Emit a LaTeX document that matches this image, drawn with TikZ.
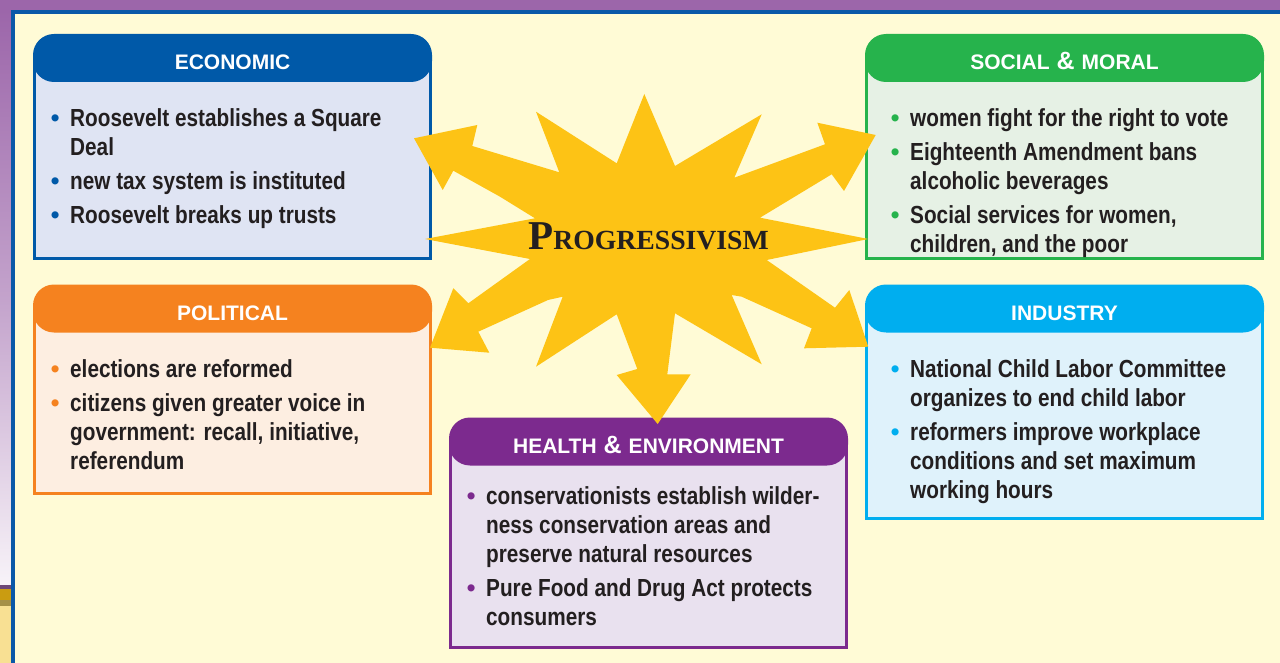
\documentclass[tikz,border=0pt]{standalone}
\usepackage{fontspec}
\setmainfont{Liberation Sans}
\newfontfamily\bodyfont[FakeStretch=0.84]{Liberation Sans}
\newfontfamily\headfont{Liberation Sans}
\newfontfamily\bulfont{Liberation Sans}
\newfontfamily\titlefont{Liberation Serif}

\definecolor{paper}{HTML}{FFFBD6}
\definecolor{frame}{HTML}{9C66AA}
\definecolor{frameline}{HTML}{0A58A8}
\definecolor{econ}{HTML}{0059A8}
\definecolor{econlight}{HTML}{DFE4F3}
\definecolor{social}{HTML}{26B34C}
\definecolor{sociallight}{HTML}{E6F1E5}
\definecolor{political}{HTML}{F5821F}
\definecolor{politicallight}{HTML}{FDEEE1}
\definecolor{industry}{HTML}{00AEEF}
\definecolor{industrylight}{HTML}{DFF2FB}
\definecolor{health}{HTML}{7C2A8E}
\definecolor{healthlight}{HTML}{E9E1EF}
\definecolor{sun}{HTML}{FDC315}
\definecolor{ink}{HTML}{231F20}

\newcommand{\bul}[1]{\llap{\textcolor{#1}{\bulfont •}\hspace{10.7pt}}}
\newcommand{\amp}{{\hspace{7pt}\fontsize{25}{25}\selectfont\&\hspace{7pt}}}

\begin{document}
\begin{tikzpicture}[x=1pt, y=-1pt]
    \tikzset{
      boxbody/.style={draw, line width=3pt, rectangle, inner sep=0pt},
      boxhead/.style={rectangle, rounded corners=21pt, inner sep=0pt, minimum width=399pt, minimum height=48pt,
        text height=24pt, text depth=0pt, text=white, font=\headfont\bfseries\fontsize{21}{21}\selectfont},
      boxlist/.style={anchor=north west, align=left, inner sep=0pt, text=ink,
        font=\bodyfont\bfseries\fontsize{24.7}{29}\selectfont},
      star/.style={fill=sun}
    }
    \useasboundingbox (0,0) rectangle (1280,663);
    \fill[paper] (0,0) rectangle (1280,663);
    % frame
    \fill[frame] (0,0) rectangle (1280,10);
    \shade[top color=frame, bottom color=frame!60!white] (0,10) rectangle (11,300);
    \shade[top color=frame!60!white, bottom color=frame!8!white] (0,300) rectangle (11,585);
    \fill[frame!70!black] (0,585) rectangle (11,589);
    \fill[sun!80!black] (0,589) rectangle (11,600);
    \fill[sun!50!black!70!paper] (0,600) rectangle (11,606);
    \fill[sun!30!paper!90!brown] (0,606) rectangle (11,663);
    \fill[frameline] (11,10) rectangle (1280,14);
    \fill[frameline] (11,10) rectangle (15,663);

    \draw (232.5,158.25) node (econbody) [boxbody, draw=econ, fill=econlight, minimum width=396pt, minimum height=200.5pt] {};
    \draw (232.5,58) node (econhead) [boxhead, fill=econ] {ECONOMIC};
    \draw (70,108.3) node (econlist) [boxlist] {\bul{econ}Roosevelt establishes a Square\\Deal\\[5pt]
      \bul{econ}new tax system is instituted\\[5pt]\bul{econ}Roosevelt breaks up trusts};

    \draw (1064.5,158.25) node (socialbody) [boxbody, draw=social, fill=sociallight, minimum width=396pt, minimum height=200.5pt] {};
    \draw (1064.5,58) node (socialhead) [boxhead, fill=social] {SOCIAL\amp MORAL};
    \draw (910,108.3) node (sociallist) [boxlist] {\bul{social}women fight for the right to vote\\[5pt]
      \bul{social}Eighteenth Amendment bans\\alcoholic beverages\\[5pt]
      \bul{social}Social services for women,\\children, and the poor};

    \draw (232.5,400.75) node (politicalbody) [boxbody, draw=political, fill=politicallight, minimum width=396pt, minimum height=185.5pt] {};
    \draw (232.5,308.5) node (politicalhead) [boxhead, fill=political] {POLITICAL};
    \draw (70,359.3) node (politicallist) [boxlist] {\bul{political}elections are reformed\\[5pt]
      \bul{political}citizens given greater voice in\\government: recall, initiative,\\referendum};

    \draw (1064.5,413.25) node (industrybody) [boxbody, draw=industry, fill=industrylight, minimum width=396pt, minimum height=210.5pt] {};
    \draw (1064.5,308.5) node (industryhead) [boxhead, fill=industry] {INDUSTRY};
    \draw (910,359.3) node (industrylist) [boxlist] {\bul{industry}National Child Labor Committee\\organizes to end child labor\\[5pt]
      \bul{industry}reformers improve workplace\\conditions and set maximum\\working hours};

    \draw (648.5,544.25) node (healthbody) [boxbody, draw=health, fill=healthlight, minimum width=396pt, minimum height=205.5pt] {};
    \draw (648.5,441.5) node (healthhead) [boxhead, fill=health] {HEALTH\amp ENVIRONMENT};
    \draw (486,486.3) node (healthlist) [boxlist] {\bul{health}conservationists establish wilder-\\ness conservation areas and\\preserve natural resources\\[5pt]
      \bul{health}Pure Food and Drug Act protects\\consumers};

    % starburst with arrows
    \fill[star] (644.3,94) -- (675,166) -- (761.7,114.3) -- (734.3,177.7) -- (825,144.3) -- (817.3,122.7)
      -- (875.7,135) -- (844,191) -- (831.7,174.3) -- (760,217.7) -- (868.3,239) -- (766.7,260)
      -- (835,307.7) -- (849.3,290) -- (868.3,346.7) -- (804,348.3) -- (811.7,328.3) -- (741.7,296.7)
      -- (731.7,295) -- (761.7,364.3) -- (675,313.3) -- (667.3,374.3) -- (690.7,374.3) -- (657.7,424)
      -- (616.7,375) -- (637.3,369) -- (616.7,314.3) -- (536,366.7) -- (562.7,296.7) -- (548,300)
      -- (478.3,331.7) -- (489.3,352.7) -- (430,347.7) -- (453.3,288.3) -- (468.3,303.3) -- (530,259)
      -- (425,239) -- (535,218.3) -- (500,196.7) -- (453.3,170.7) -- (442.7,190) -- (414,138.3)
      -- (477.3,125) -- (472.3,146) -- (559.3,172.3) -- (536,111.7) -- (616.7,163.3) -- cycle;
    \draw (648.5,250) node (title) [anchor=base, inner sep=0pt, text=ink]
      {\titlefont\bfseries\fontsize{41}{41}\selectfont P\fontsize{27.7}{27.7}\selectfont ROGRESSIVISM};
\end{tikzpicture}
\end{document}
